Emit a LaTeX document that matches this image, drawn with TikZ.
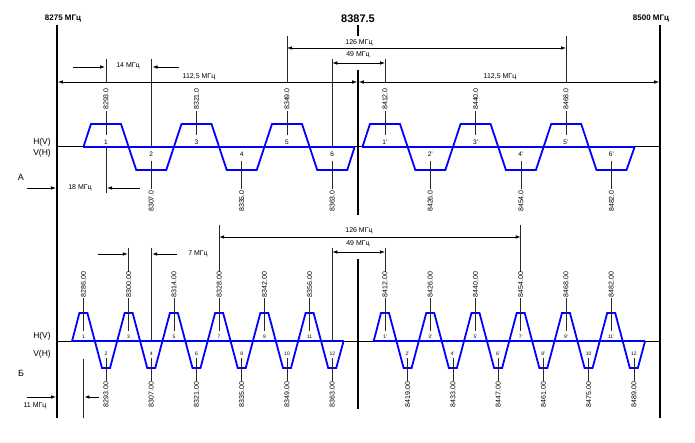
\documentclass[tikz,border=0pt]{standalone}
\usepackage{fontspec}
\setmainfont{Liberation Sans}
\usetikzlibrary{arrows.meta}
\begin{document}
\begin{tikzpicture}[x=1pt,y=-1pt,
  lbl/.style={font=\fontsize{7}{8}\selectfont, inner sep=1pt},
  side/.style={font=\fontsize{8.5}{9}\selectfont, inner sep=0.5pt},
  freq/.style={font=\fontsize{7}{8}\selectfont, rotate=90, inner sep=1pt},
  numa/.style={font=\fontsize{6.5}{7}\selectfont, inner sep=0.3pt},
  numb/.style={font=\fontsize{5}{6}\selectfont, inner sep=0.3pt},
  tick/.style={draw=black!85, line width=0.7pt},
  bound/.style={draw=black, line width=1.6pt},
  axisline/.style={draw=black, line width=1pt},
  wave/.style={draw=blue, line width=1.8pt, line join=miter},
  dimarrow/.style={draw=black, line width=0.8pt, -{Latex[length=5pt,width=3.6pt]}},
  dimboth/.style={draw=black, line width=0.8pt, {Latex[length=5pt,width=3.6pt]}-{Latex[length=5pt,width=3.6pt]}}
]
\useasboundingbox (0,0) rectangle (695,443);

% ---------------- top labels and boundaries ----------------
\node[font=\fontsize{8}{9}\selectfont\bfseries, inner sep=0pt] (lo) at (63,19) {8275 МГц};
\node[font=\fontsize{8}{9}\selectfont\bfseries, inner sep=0pt] (hi) at (651,19) {8500 МГц};
\node[font=\fontsize{11}{12}\selectfont\bfseries, inner sep=0pt] (mid) at (358,19) {8387.5};

\coordinate (L1) at (57,25);  \coordinate (L2) at (57,418);
\coordinate (R1) at (660,25); \coordinate (R2) at (660,418);
\coordinate (C0) at (358,25); \coordinate (C0b) at (358,36);
\coordinate (C1) at (358,70); \coordinate (C2) at (358,215);
\coordinate (C3) at (358,259); \coordinate (C4) at (358,409);
\draw[bound] (L1) -- (L2);
\draw[bound] (R1) -- (R2);
\draw[bound] (C0) -- (C0b);
\draw[bound] (C1) -- (C2);
\draw[bound] (C3) -- (C4);

% ---------------- Part A ----------------
\coordinate (AL) at (57,147); \coordinate (AR) at (660,147);
\draw[axisline] (AL) -- (AR);
\coordinate (wa1) at (83.4,147); \coordinate (wa2) at (354.6,147);
\coordinate (wa3) at (362.4,147); \coordinate (wa4) at (634.6,147);
\draw[wave] (wa1) -- (wa2);
\draw[wave] (wa3) -- (wa4);
\draw[wave] (wa1) \foreach \k/\y in {0/124,1/170,2/124,3/170,4/124,5/170}
  { -- ({106+45.25*\k-15},\y) -- ({106+45.25*\k+15},\y) } -- (wa2);
\draw[wave] (wa3) \foreach \k/\y in {0/124,1/170,2/124,3/170,4/124,5/170}
  { -- ({385+45.3*\k-15},\y) -- ({385+45.3*\k+15},\y) } -- (wa4);

\foreach \x/\t/\n/\id in {106/8293.0/1/a1, 196.5/8321.0/3/a3, 287/8349.0/5/a5,
    385/8412.0/1'/a7, 475.6/8440.0/3'/a9, 566/8468.0/5'/a11}{
  \node[freq] (f\id) at (\x,99) {\t};
  \node[numa] (n\id) at (\x,142) {\n};
  \coordinate (t\id) at (\x,135);
  \draw[tick] (f\id.west) -- (t\id);
}
\foreach \x/\t/\n/\id in {151.25/8307.0/2/a2, 241.75/8335.0/4/a4, 332.25/8363.0/6/a6,
    430.3/8426.0/2'/a8, 520.9/8454.0/4'/a10, 611.5/8482.0/6'/a12}{
  \node[numa] (n\id) at (\x,154.5) {\n};
  \node[freq] (f\id) at (\x,201) {\t};
  \coordinate (t\id) at (\x,161);
  \draw[tick] (t\id) -- (f\id.east);
}

% marker lines A
\coordinate (m14a1) at (106,59);   \coordinate (m14a2) at (106,82);
\coordinate (m14b1) at (151.25,59); \coordinate (m14b2) at (151.25,147);
\coordinate (m126a1) at (287,36);  \coordinate (m126a2) at (287,82);
\coordinate (m126b1) at (566,36);  \coordinate (m126b2) at (566,82);
\coordinate (m49a1) at (332.25,59); \coordinate (m49a2) at (332.25,147);
\coordinate (m49b1) at (385,59);   \coordinate (m49b2) at (385,82);
\coordinate (m18a1) at (106,147);  \coordinate (m18a2) at (106,193);
\foreach \p in {m14a,m14b,m126a,m126b,m49a,m49b,m18a}{\draw[tick] (\p1) -- (\p2);}

% dimension arrows A
\coordinate (d14l) at (73,67);  \coordinate (d14le) at (105,67);
\coordinate (d14r) at (179,67); \coordinate (d14re) at (152.5,67);
\draw[dimarrow] (d14l) -- (d14le);
\draw[dimarrow] (d14r) -- (d14re);
\node[lbl] (l14) at (128,66) {14 МГц};

\coordinate (d112a) at (57.8,82); \coordinate (d112b) at (357.2,82);
\coordinate (d112c) at (358.8,82); \coordinate (d112d) at (659.2,82);
\draw[dimboth] (d112a) -- (d112b);
\draw[dimboth] (d112c) -- (d112d);
\node[lbl] (l112a) at (199,77) {112,5 МГц};
\node[lbl] (l112b) at (500,77) {112,5 МГц};

\coordinate (d126a) at (287,48); \coordinate (d126b) at (566,48);
\draw[dimboth] (d126a) -- (d126b);
\node[lbl] (l126a) at (359,42.5) {126 МГц};

\coordinate (d49a) at (332.25,63); \coordinate (d49b) at (385,63);
\draw[dimboth] (d49a) -- (d49b);
\node[lbl] (l49a) at (358,54.5) {49 МГц};

\coordinate (d18l) at (27,188);  \coordinate (d18le) at (56,188);
\coordinate (d18r) at (140,188); \coordinate (d18re) at (107,188);
\draw[dimarrow] (d18l) -- (d18le);
\draw[dimarrow] (d18r) -- (d18re);
\node[lbl] (l18) at (80,188) {18 МГц};

\node[side] (hvA) at (42,142) {H(V)};
\node[side] (vhA) at (42,153) {V(H)};
\node[font=\fontsize{9}{10}\selectfont, inner sep=0pt] (partA) at (21,177) {А};

% ---------------- Part B ----------------
\coordinate (BL) at (57,341); \coordinate (BR) at (660,341);
\draw[axisline] (BL) -- (BR);
\coordinate (wb1) at (72.1,341); \coordinate (wb2) at (343.6,341);
\coordinate (wb3) at (373.7,341); \coordinate (wb4) at (645.1,341);
\draw[wave] (wb1) -- (wb2);
\draw[wave] (wb3) -- (wb4);
\draw[wave] (wb1) \foreach \k/\y in {0/313,1/368,2/313,3/368,4/313,5/368,6/313,7/368,8/313,9/368,10/313,11/368}
  { -- ({83.4+22.62*\k-4},\y) -- ({83.4+22.62*\k+4},\y) } -- (wb2);
\draw[wave] (wb3) \foreach \k/\y in {0/313,1/368,2/313,3/368,4/313,5/368,6/313,7/368,8/313,9/368,10/313,11/368}
  { -- ({385+22.62*\k-4},\y) -- ({385+22.62*\k+4},\y) } -- (wb4);

\foreach \x/\t/\n/\id in {83.4/8286.00/1/b1, 128.6/8300.00/3/b3, 173.9/8314.00/5/b5,
    219.1/8328.00/7/b7, 264.4/8342.00/9/b9, 309.6/8356.00/11/b11,
    385/8412.00/1'/b13, 430.2/8426.00/3'/b15, 475.5/8440.00/5'/b17,
    520.7/8454.00/7'/b19, 566/8468.00/9'/b21, 611.2/8482.00/11'/b23}{
  \node[freq] (f\id) at (\x,284.5) {\t};
  \node[numb] (n\id) at (\x,337) {\n};
  \coordinate (t\id) at (\x,331);
  \draw[tick] (f\id.west) -- (t\id);
}
\foreach \x/\t/\n/\id in {106/8293.00/2/b2, 151.3/8307.00/4/b4, 196.5/8321.00/6/b6,
    241.8/8335.00/8/b8, 287/8349.00/10/b10, 332.3/8363.00/12/b12,
    407.6/8419.00/2'/b14, 452.9/8433.00/4'/b16, 498.1/8447.00/6'/b18,
    543.4/8461.00/8'/b20, 588.6/8475.00/10/b22, 633.9/8489.00/12/b24}{
  \node[numb] (n\id) at (\x,354) {\n};
  \node[freq] (f\id) at (\x,394.5) {\t};
  \coordinate (t\id) at (\x,358);
  \draw[tick] (t\id) -- (f\id.east);
}

% marker lines B
\coordinate (n7a1) at (128.6,248); \coordinate (n7a2) at (128.6,272);
\coordinate (n7b1) at (151.3,248); \coordinate (n7b2) at (151.3,341);
\coordinate (n126a1) at (219.1,225); \coordinate (n126a2) at (219.1,272);
\coordinate (n126b1) at (520.7,225); \coordinate (n126b2) at (520.7,272);
\coordinate (n49a1) at (332.3,248); \coordinate (n49a2) at (332.3,341);
\coordinate (n49b1) at (385,248);   \coordinate (n49b2) at (385,272);
\coordinate (n11a1) at (83.4,359);  \coordinate (n11a2) at (83.4,418);
\foreach \p in {n7a,n7b,n126a,n126b,n49a,n49b,n11a}{\draw[tick] (\p1) -- (\p2);}

% dimension arrows B
\coordinate (e7l) at (98,254);  \coordinate (e7le) at (127.8,254);
\coordinate (e7r) at (177,254); \coordinate (e7re) at (152.1,254);
\draw[dimarrow] (e7l) -- (e7le);
\draw[dimarrow] (e7r) -- (e7re);
\node[lbl] (l7) at (198,254) {7 МГц};

\coordinate (e126a) at (219.1,237); \coordinate (e126b) at (520.7,237);
\draw[dimboth] (e126a) -- (e126b);
\node[lbl] (l126b) at (359,231) {126 МГц};

\coordinate (e49a) at (332.3,252); \coordinate (e49b) at (385,252);
\draw[dimboth] (e49a) -- (e49b);
\node[lbl] (l49b) at (358,243.5) {49 МГц};

\coordinate (e11l) at (27,397);  \coordinate (e11le) at (56,397);
\coordinate (e11r) at (99,397);  \coordinate (e11re) at (84.4,397);
\draw[dimarrow] (e11l) -- (e11le);
\draw[dimarrow] (e11r) -- (e11re);
\node[lbl] (l11) at (35,406) {11 МГц};

\node[side] (hvB) at (42,336) {H(V)};
\node[side] (vhB) at (42,354) {V(H)};
\node[font=\fontsize{9}{10}\selectfont, inner sep=0pt] (partB) at (21,373) {Б};
\end{tikzpicture}
\end{document}
